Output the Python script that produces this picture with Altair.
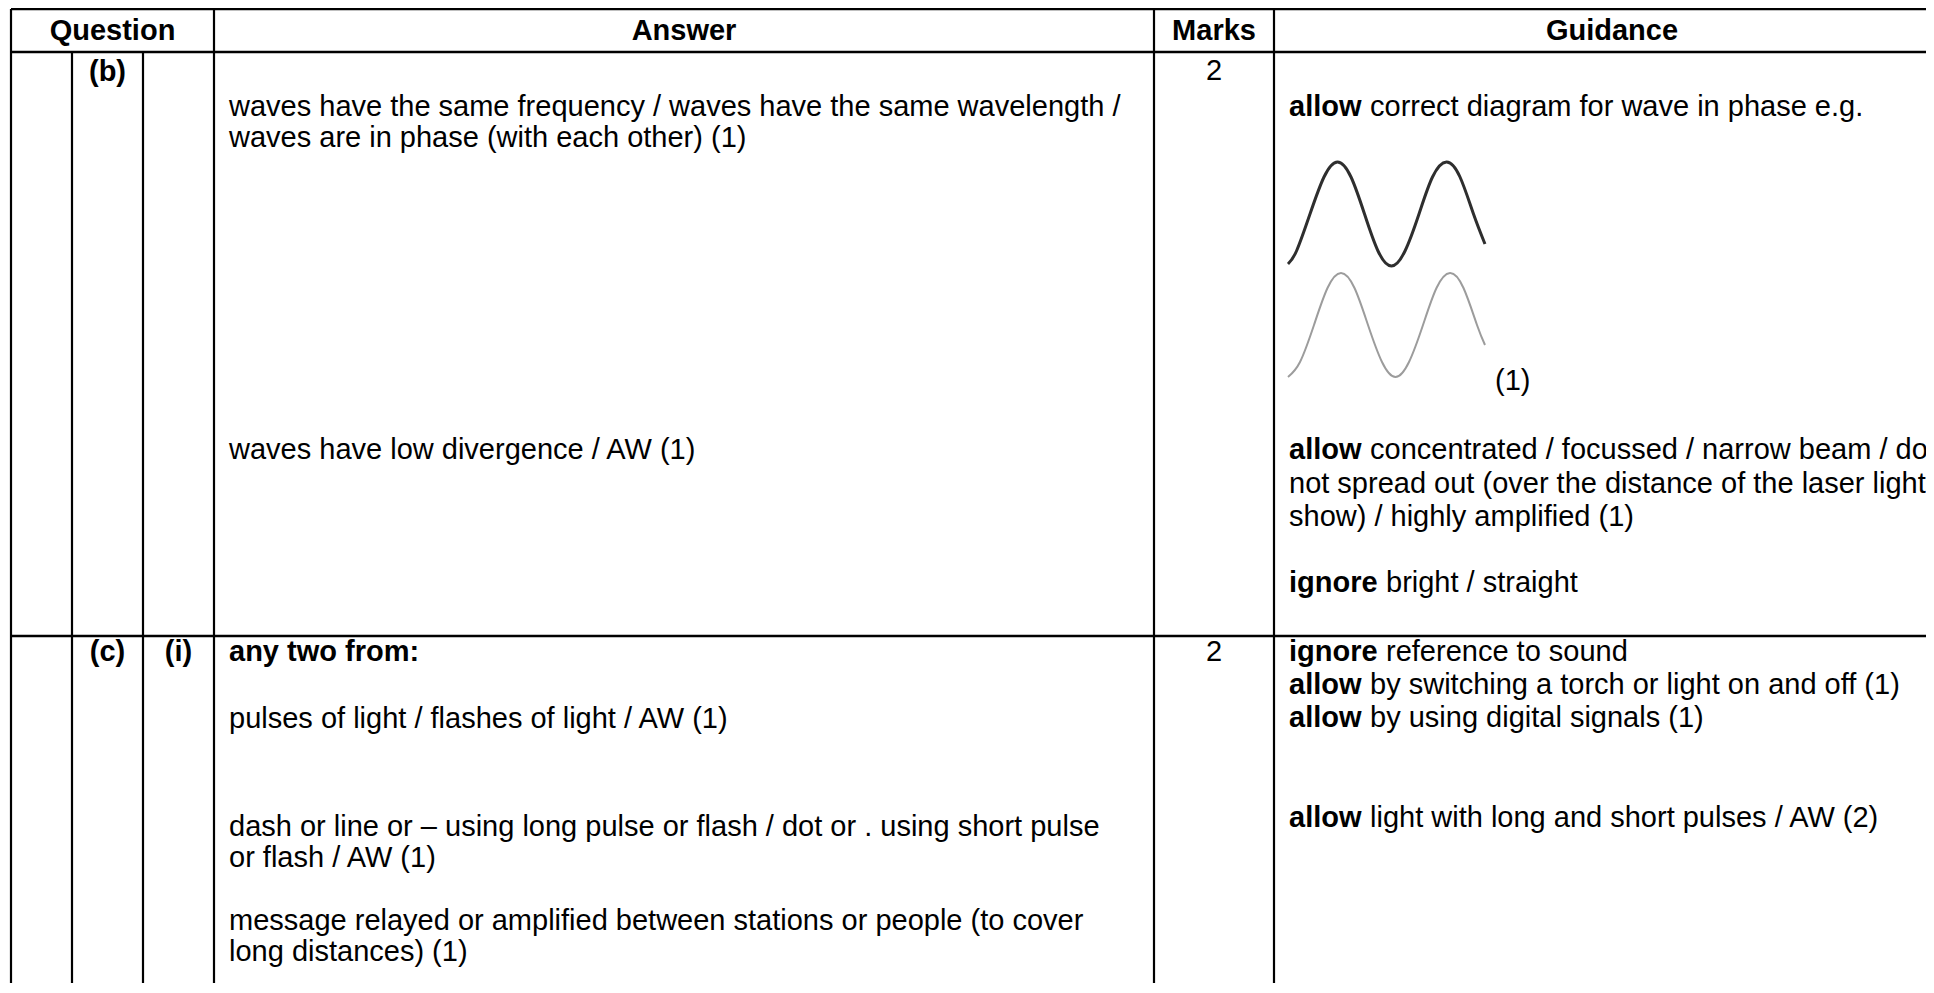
import altair as alt
import pandas as pd

# ---- page frame (reference pixel coordinates) ----
X0, X1 = 8, 1926
Y0, Y1 = 8, 983
W, H = X1 - X0, Y1 - Y0

# ---- table structure ----
col_edges = [11, 72, 143, 214, 1154, 1274]
row_edges = [9, 52, 636]
right_edge = 1934
bottom_edge = 993

headers = ["Question", "Answer", "Marks", "Guidance"]
header_spans = [(11, 214), (214, 1154), (1154, 1274), (1274, 1950)]
header_y = 31

# part labels: (text, column span, y)
part_labels = ["(b)", "(c)", "(i)"]
part_spans = [(72, 143), (72, 143), (143, 214)]
part_y = [72, 652, 652]

marks_values = ["2", "2"]
marks_y = [71, 652]

# answer column: (bold text, regular text, y)
answer_bold = ["", "", "", "any two from:", "", "", "", "", ""]
answer_text = [
    "waves have the same frequency / waves have the same wavelength /",
    "waves are in phase (with each other) (1)",
    "waves have low divergence / AW (1)",
    "",
    "pulses of light / flashes of light / AW (1)",
    "dash or line or \u2013 using long pulse or flash / dot or . using short pulse",
    "or flash / AW (1)",
    "message relayed or amplified between stations or people (to cover",
    "long distances) (1)",
]
answer_y = [107, 138, 450, 652, 719, 827, 858, 921, 952]

# guidance column
guid_bold = ["allow", "", "allow", "", "", "ignore", "ignore", "allow", "allow", "allow"]
guid_text = [
    "correct diagram for wave in phase e.g.",
    "(1)",
    "concentrated / focussed / narrow beam / do",
    "not spread out (over the distance of the laser light",
    "show) / highly amplified (1)",
    "bright / straight",
    "reference to sound",
    "by switching a torch or light on and off (1)",
    "by using digital signals (1)",
    "light with long and short pulses / AW (2)",
]
guid_y = [107, 381, 450, 484, 517, 583, 652, 685, 718, 818]
guid_indent = [0, 206, 0, 0, 0, 0, 0, 0, 0, 0]

# wave diagram points
wave_top_x = [1288, 1296.5, 1310, 1324, 1337.5, 1351, 1364.5, 1378, 1391.5,
              1405, 1419, 1432.5, 1446.5, 1460, 1473.5, 1485]
wave_top_y = [264, 251, 214, 177, 162, 177, 214, 251, 266,
              251, 214, 177, 162, 177, 214, 244]
wave_bot_x = [1288, 1300, 1314, 1327.5, 1341, 1354.5, 1368, 1382, 1395.5,
              1409, 1423, 1436.5, 1450, 1463.5, 1477, 1485]
wave_bot_y = [377, 362, 325, 288, 273, 288, 325, 362, 377,
              362, 325, 288, 273, 288, 325, 345]

PAD = 15
BOLD_GAP = {"allow": 81, "ignore": 97, "any two from:": 0}
FONT = "Liberation Sans"
FS = 29

xs = alt.Scale(domain=[X0, X1], nice=False, zero=False)
ys = alt.Scale(domain=[Y1, Y0], nice=False, zero=False)

# ---- lines ----
vlines = []
for c in col_edges:
    top = row_edges[1] if c in (72, 143) else row_edges[0]
    vlines.append({"x": c, "y": top, "y2": bottom_edge})
hlines = [{"y": r, "x": col_edges[0], "x2": right_edge} for r in row_edges]

vdf = pd.DataFrame(vlines)
hdf = pd.DataFrame(hlines)

vrule = alt.Chart(vdf).mark_rule(color="black", strokeWidth=2.2).encode(
    x=alt.X("x:Q", scale=xs, axis=None),
    y=alt.Y("y:Q", scale=ys, axis=None),
    y2="y2:Q",
)
hrule = alt.Chart(hdf).mark_rule(color="black", strokeWidth=2.4).encode(
    x=alt.X("x:Q", scale=xs, axis=None),
    x2="x2:Q",
    y=alt.Y("y:Q", scale=ys, axis=None),
)

# ---- text rows ----
center_bold = []
for h, (a, b) in zip(headers, header_spans):
    center_bold.append({"t": h, "x": (a + b) / 2, "y": header_y})
for t, (a, b), y in zip(part_labels, part_spans, part_y):
    center_bold.append({"t": t, "x": (a + b) / 2, "y": y})
center_reg = [{"t": m, "x": (col_edges[4] + col_edges[5]) / 2, "y": y}
              for m, y in zip(marks_values, marks_y)]

left_bold, left_reg = [], []
ax0 = col_edges[3] + PAD
for b, t, y in zip(answer_bold, answer_text, answer_y):
    if b:
        left_bold.append({"t": b, "x": ax0, "y": y})
    if t:
        left_reg.append({"t": t, "x": ax0 + (BOLD_GAP[b] if b else 0), "y": y})
gx0 = col_edges[5] + PAD
for b, t, y, ind in zip(guid_bold, guid_text, guid_y, guid_indent):
    if b:
        left_bold.append({"t": b, "x": gx0, "y": y})
    if t:
        left_reg.append({"t": t, "x": gx0 + ind + (BOLD_GAP[b] if b else 0), "y": y})


def text_layer(rows, align, weight):
    return alt.Chart(pd.DataFrame(rows)).mark_text(
        align=align, baseline="middle", font=FONT, fontSize=FS,
        fontWeight=weight, color="black",
    ).encode(
        x=alt.X("x:Q", scale=xs, axis=None),
        y=alt.Y("y:Q", scale=ys, axis=None),
        text="t:N",
    )


t1 = text_layer(center_bold, "center", "bold")
t2 = text_layer(center_reg, "center", "normal")
t3 = text_layer(left_bold, "left", "bold")
t4 = text_layer(left_reg, "left", "normal")

# ---- waves ----
wt = pd.DataFrame({"x": wave_top_x, "y": wave_top_y, "o": range(len(wave_top_x))})
wb = pd.DataFrame({"x": wave_bot_x, "y": wave_bot_y, "o": range(len(wave_bot_x))})
wave1 = alt.Chart(wt).mark_line(color="#2e2e2e", strokeWidth=3, interpolate="natural").encode(
    x=alt.X("x:Q", scale=xs, axis=None),
    y=alt.Y("y:Q", scale=ys, axis=None),
    order="o:Q",
)
wave2 = alt.Chart(wb).mark_line(color="#9c9c9c", strokeWidth=2, interpolate="natural").encode(
    x=alt.X("x:Q", scale=xs, axis=None),
    y=alt.Y("y:Q", scale=ys, axis=None),
    order="o:Q",
)

chart = alt.layer(vrule, hrule, wave1, wave2, t1, t2, t3, t4).properties(
    width=W, height=H, padding=0, autosize="none", background="white",
).configure_view(stroke=None)

chart.save("out.html", embed_options={"renderer": "svg", "actions": False})
